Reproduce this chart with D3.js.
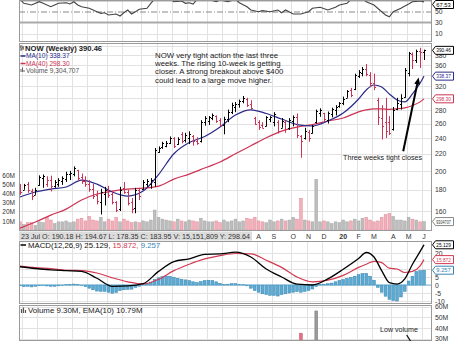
<!DOCTYPE html>
<html><head><meta charset="utf-8">
<script src="https://cdn.jsdelivr.net/npm/d3@7"></script>
<style>
html,body{margin:0;padding:0;background:#fff;}
svg{display:block;}
text{font-family:"Liberation Sans",Arial,sans-serif;}
</style></head><body>
<svg id="c" width="454" height="341"></svg>
<script>
// ---------- DATA (weekly bars, index 0 = week of 28 May 2018) ----------
const openP = [184,180,186,179,175,185,192,186,190.18,184,
 186,189,191,196,197,201,193,189,186,181,
 175,168,176,180,176,168,162,182,178,168,
 163,180,181,186,186,188,222,228,230,234,
 240,232,245,237,240,242,236,236,262,264,
 268,271,265,258,266,278,285,290,294,298,
 290,268,262,258,257,266,262,262,254,262,
 253,264,270,243,240,248,247,262,276,275,
 265,274,280,286,291,300,313,315,338,345,
 352,340,326,296,268,262,262,252,282,290,
 302,345,382,370,388,386];
const highP = [186,186,188,181,182,195,196,194,194.67,190,
 192,194,199,200,205,201,197,194,190,186,
 179,181,183,184,179,169,183,188,180,172,
 182,182,190,191,192,227,229,235,236,242,
 241,241,248,247,249,244,241,265,271,271,
 275,272,268,270,281,292,293,297,303,300,
 296,270,265,262,271,271,277,265,268,265,
 268,272,275,244,254,251,258,281,283,276,
 278,284,288,293,302,313,317,343,350,356,
 362,346,343,300,288,300,271,285,300,306,
 354,387,386,392,396,392];
const lowP = [175,180,177,170,175,184,182,183,178.35,182,
 183,185,188,190,194,189,186,183,178,171,
 166,157,165,172,166,159,160,176,165,158,
 158,170,180,183,181,183,221,226,228,232,
 227,231,233,234,232,230,231,234,257,258,
 265,261,256,245,262,274,277,284,291,285,
 281,258,251,254,256,262,256,246,254,247,
 251,256,240,215,238,235,246,260,270,262,
 260,269,272,284,288,300,301,313,335,338,
 338,318,313,258,238,240,244,250,280,281,
 300,338,352,364,354,370];
const closeP = [178,185,180,174,180,193,194,190,183.95,188,
 190,192,197,198,203,192,189,186,181,174,
 169,178,180,175,168,161,180,178,167,162,
 180,174,188,189,190,224,227,233,234,240,
 230,238,236,244,246,236,234,262,268,269,
 273,264,258,266,278,288,290,295,300,289,
 284,260,255,254,269,270,274,250,264,252,
 265,270,244,236,250,240,256,279,281,266,
 275,282,285,291,298,311,305,340,347,352,
 342,325,318,270,256,250,247,280,292,300,
 350,384,370,389,386,390.46];
// weekly volume, millions
const volM = [9,6,8,8,5,9,8,14,11,7,
 9,9,10,8,9,12,13,10,15,11,
 10,14,9,12,10,14,9,12,10,8,
 9,8,10,9,11,22,14,12,11,10,
 9,12,10,9,11,10,9,13,10,9,
 9,10,8,11,9,10,12,9,10,13,
 12,14,10,9,8,11,9,10,12,10,
 11,14,12,35,11,10,9,56,9,10,
 9,7,9,8,11,9,10,12,10,13,
 14,11,9,10,14,17,18,15,11,11,
 10,14,12,11,9,9.3];
// moving averages
const maIdx = [0,4,8,12,16,20,24,28,32,36,40,44,48,52,56,60,64,68,72,76,80,84,88,90,92,94,96,98,100,102,104,105];
const ma10 = [172.9,177.8,180.7,182.8,190.0,185.8,177.8,173.8,178.7,195.8,219.9,234.0,241.9,255.0,272.6,280.6,274.9,266.6,258.6,256.5,263.7,275.7,298.0,313.4,322.1,318.5,306.5,296.5,293.3,306.5,325.7,338.37];
const ma40 = [145.5,150.5,156.4,161.7,170.0,175.8,178.7,180.7,181.6,183.7,191.0,196.4,203.1,210.0,219.9,229.9,240.3,249.4,255.0,258.6,263.7,268.1,277.5,280.6,282.2,282.2,281.4,282.2,283.7,287.5,293.3,298.30];
// MACD(12,26,9)
const macdLine = [11.4,10.3,9.5,9.0,8.5,4.2,-0.8,-0.6,0.8,8.5,14.6,16.4,19.2,19.4,20.5,17.5,10.0,5.0,0.5,0.0,3.8,9.8,16.5,20.3,17.5,9.0,1.5,0.6,3.8,13.0,21.0,25.129];
const macdSignal = [11.8,10.8,10.2,9.2,9.0,7.5,4.5,2.0,0.6,3.5,9.0,13.0,16.3,18.4,19.7,19.5,15.5,11.0,5.0,2.0,3.0,6.0,11.0,13.0,14.8,14.0,10.5,10.0,7.8,8.5,12.0,15.872];
const macdHist = [-0.5,-1,-0.8,-1.2,-0.8,-0.5,-0.3,-0.6,-0.8,-0.8,
 -0.5,-0.3,0.2,0.4,0.6,0.3,-0.2,-1,-2,-3,
 -3.8,-4,-4,-4.5,-5.2,-4.8,-3.5,-3,-2.8,-2.6,
 -1.5,-0.8,0.2,1,1.8,3.5,4.5,5.2,5.6,5.4,
 4.8,4.2,3.6,3.2,2.8,2,1.5,2.2,2.8,3,
 2.8,2,1,0.4,0.5,0.8,0.8,0.4,0.2,-0.5,
 -2,-3.5,-4.5,-5.5,-6,-6.5,-6.5,-6.9,-6,-5.5,
 -5,-4.5,-4.2,-4.5,-4,-3.5,-2.5,-1,0.3,0.5,
 0.8,1.2,2,2.8,3.5,4.2,4.8,5.5,6.5,7.2,
 7.3,5.5,3,-1.5,-4.5,-7,-9,-9.8,-10,-7.5,
 -4,2.5,5.5,8.5,9,9.257];
// RSI (top panel)
const rsiIdx = [0,1,3,5,6,8,9,10,12,13,14,15,16,18,20,21,22,23,25,26,27,28,29,30,31,33,34,35,37,39,40,42,43,44,45,46,48,49,51,52,54,56,57,59,60,62,63,65,67,68,69,71,73,75,76,78,80,82,83,85,86,88,89,90,92,94,95,96,97,99,101,102,104,105];
const rsiVal = [72,64.9,61.8,67.8,64.9,58.7,61.8,64.9,66,63.6,67.8,61.8,58.7,55.8,49.6,46.7,47.8,43.6,45.5,41.8,47.8,52.7,45.5,49.6,54,55.8,64.9,73,77,73,67.8,69.1,64.9,66,63.6,72,75,72,67.8,71,67.8,72,66,58.7,52.7,49.6,51.5,49.6,52.7,47.8,52.7,45.5,45.5,49.6,55.8,57.6,52.7,57.6,61.8,64.9,72,78,73,67.8,61.8,49.6,43.6,40.5,49.6,55.8,63.6,67.8,69.1,67.53];
// axis ticks / labels
const monthIdx = [1,5,10,14,18,23,27,32,36,40,44,49,53,57,62,66,71,75,79,84,88,92,97,101,105];
const monthLbl = ["J","J","A","S","O","N","D","19","F","M","A","M","J","J","A","S","O","N","D","20","F","M","A","M","J"];
const priceTicks = [160,180,200,220,240,260,280,300,320,340,360,380,400];
const volTicks = [10,20,30,40,50,60];
const macdTicks = [-10,-5,0,5,10,15,20,25];
const rsiTicks = [10,30,50];
const vol2Ticks = [30,40,50,60];

// ---------- LAYOUT ----------
const svg = d3.select('#c');
const PL = 19, PR = 432;
const x = d3.scaleLinear().domain([0,105]).range([20,424]);
const step = x(1) - x(0);
const yR = d3.scaleLinear().domain([0,100]).range([39,-16]);
const yP = d3.scaleLog().domain([160,400]).range([211,46]);
const yV = d3.scaleLinear().domain([0,60]).range([230,175.6]);
const yM = d3.scaleLinear().domain([-10,25]).range([301,245]);
const yV2 = d3.scaleLinear().domain([30,60]).range([338.5,306.7]);
const panels = {r:[0,42], m:[43,231], d:[241,304], v:[305,341]};
const UP = '#000', DN = '#cc3355';
const STRIP_END = 252;

const defs = svg.append('defs');
Object.entries(panels).forEach(([k,[a,b]])=>{
  defs.append('clipPath').attr('id','clip'+k).append('rect')
    .attr('x',PL).attr('y',a).attr('width',PR-PL).attr('height',b-a);
});

// grids
Object.entries(panels).forEach(([k,[a,b]])=>{
  const g = svg.append('g').attr('clip-path',`url(#clip${k})`);
  g.selectAll(null).data(monthIdx).join('line')
    .attr('x1',d=>Math.round(x(d)-step/2)+0.5).attr('x2',d=>Math.round(x(d)-step/2)+0.5)
    .attr('y1',a).attr('y2',b).attr('stroke','#e2e2e2').attr('stroke-width',1);
});
function hgrid(vals, sc){
  svg.append('g').selectAll(null).data(vals).join('line')
    .attr('x1',PL).attr('x2',PR)
    .attr('y1',d=>Math.round(sc(d))+0.5).attr('y2',d=>Math.round(sc(d))+0.5)
    .attr('stroke','#e2e2e2').attr('stroke-width',1);
}
hgrid(priceTicks, yP);
hgrid(macdTicks.filter(d=>d<=20), yM);
hgrid(vol2Ticks, yV2);
hgrid([10], yR);

// ---------- RSI panel ----------
const gR = svg.append('g').attr('clip-path','url(#clipr)');
gR.append('line').attr('x1',PL).attr('x2',PR).attr('y1',yR(70)).attr('y2',yR(70)).attr('stroke','#aaa').attr('stroke-width',2);
gR.append('line').attr('x1',PL).attr('x2',PR).attr('y1',yR(30)).attr('y2',yR(30)).attr('stroke','#aaa').attr('stroke-width',2);
gR.append('line').attr('x1',PL).attr('x2',PR).attr('y1',yR(50)+0.5).attr('y2',yR(50)+0.5).attr('stroke','#888').attr('stroke-width',1).attr('stroke-dasharray','6,2,1,2');
gR.append('path').datum(d3.zip(rsiIdx,rsiVal))
  .attr('d',d3.line().x(d=>x(d[0])).y(d=>yR(d[1])))
  .attr('fill','none').attr('stroke','#444').attr('stroke-width',1.1);

// ---------- MAIN panel ----------
const gM = svg.append('g').attr('clip-path','url(#clipm)');
const idx = d3.range(closeP.length);
const isUp = i => i===0 ? closeP[0]>=openP[0] : closeP[i]>=closeP[i-1];
gM.selectAll(null).data(idx).join('rect')
  .attr('x',i=>x(i)-1.4).attr('width',2.8)
  .attr('y',i=>yV(volM[i])).attr('height',i=>yV(0)-yV(volM[i]))
  .attr('fill',i=>isUp(i)?'#bdbdbd':'#f2b0ba')
  .attr('stroke',i=>isUp(i)?'#a6a6a6':'#e08c9a').attr('stroke-width',0.5);
gM.append('path').datum(d3.zip(maIdx,ma40))
  .attr('d',d3.line().x(d=>x(d[0])).y(d=>yP(d[1])).curve(d3.curveMonotoneX))
  .attr('fill','none').attr('stroke','#cc3355').attr('stroke-width',1.2);
gM.append('path').datum(d3.zip(maIdx,ma10))
  .attr('d',d3.line().x(d=>x(d[0])).y(d=>yP(d[1])).curve(d3.curveMonotoneX))
  .attr('fill','none').attr('stroke','#2b2b8a').attr('stroke-width',1.2);
const bars = gM.selectAll(null).data(idx).join('g').attr('stroke',i=>isUp(i)?UP:DN).attr('stroke-width',1);
bars.append('line').attr('x1',i=>Math.round(x(i))+0.5).attr('x2',i=>Math.round(x(i))+0.5)
  .attr('y1',i=>yP(highP[i])).attr('y2',i=>yP(lowP[i]));
bars.append('line').attr('x1',i=>Math.round(x(i))-1).attr('x2',i=>Math.round(x(i))+0.5)
  .attr('y1',i=>Math.round(yP(openP[i]))+0.5).attr('y2',i=>Math.round(yP(openP[i]))+0.5);
bars.append('line').attr('x1',i=>Math.round(x(i))+0.5).attr('x2',i=>Math.round(x(i))+2)
  .attr('y1',i=>Math.round(yP(closeP[i]))+0.5).attr('y2',i=>Math.round(yP(closeP[i]))+0.5);

// annotation arrow
const ax0 = x(99.6), ay0 = yP(223), ax1 = x(103.6), ay1 = yP(336);
const ang = Math.atan2(ay1-ay0, ax1-ax0);
gM.append('line').attr('x1',ax0).attr('y1',ay0).attr('x2',ax1-5*Math.cos(ang)).attr('y2',ay1-5*Math.sin(ang))
  .attr('stroke','#000').attr('stroke-width',2);
gM.append('path').attr('d',`M${ax1},${ay1} L${ax1-7*Math.cos(ang)+3*Math.sin(ang)},${ay1-7*Math.sin(ang)-3*Math.cos(ang)} L${ax1-7*Math.cos(ang)-3*Math.sin(ang)},${ay1-7*Math.sin(ang)+3*Math.cos(ang)} Z`).attr('fill','#000');

// ---------- MACD panel ----------
const gD = svg.append('g').attr('clip-path','url(#clipd)');
gD.selectAll(null).data(idx).join('rect')
  .attr('x',i=>x(i)-1.4).attr('width',2.8)
  .attr('y',i=>Math.min(yM(0),yM(macdHist[i]))).attr('height',i=>Math.abs(yM(macdHist[i])-yM(0)))
  .attr('fill','#5aaad2').attr('stroke','#3a86b4').attr('stroke-width',0.5);
gD.append('line').attr('x1',PL).attr('x2',PR).attr('y1',yM(0)).attr('y2',yM(0)).attr('stroke','#5aaad2').attr('stroke-width',0.8);
gD.append('path').datum(d3.zip(maIdx,macdSignal))
  .attr('d',d3.line().x(d=>x(d[0])).y(d=>yM(d[1])).curve(d3.curveMonotoneX))
  .attr('fill','none').attr('stroke','#d23a52').attr('stroke-width',1.2);
gD.append('path').datum(d3.zip(maIdx,macdLine))
  .attr('d',d3.line().x(d=>x(d[0])).y(d=>yM(d[1])).curve(d3.curveMonotoneX))
  .attr('fill','none').attr('stroke','#000').attr('stroke-width',1.3);

// ---------- VOLUME panel ----------
const gV = svg.append('g').attr('clip-path','url(#clipv)');
gV.selectAll(null).data(idx).join('rect')
  .attr('x',i=>x(i)-1.4).attr('width',2.8)
  .attr('y',i=>yV2(volM[i])).attr('height',400)
  .attr('fill',i=>isUp(i)?'#9a9a9a':'#e0707f')
  .attr('stroke',i=>isUp(i)?'#777':'#c85566').attr('stroke-width',0.5);

// ---------- panel borders ----------
Object.values(panels).forEach(([a,b])=>{
  svg.append('rect').attr('x',PL+0.5).attr('y',a+0.5).attr('width',PR-PL-1).attr('height',b-a-1)
    .attr('fill','none').attr('stroke','#9a9a9a').attr('stroke-width',1);
});

// ---------- axes labels ----------
function rightAxis(sc, vals, fmt){
  const g = svg.append('g').attr('transform',`translate(${PR},0)`)
    .call(d3.axisRight(sc).tickValues(vals).tickFormat(fmt).tickSize(0).tickPadding(3));
  g.select('.domain').remove();
  g.selectAll('text').attr('font-size',6.8).attr('fill','#333').attr('font-family','"Liberation Sans",Arial,sans-serif');
  return g;
}
rightAxis(yR, rsiTicks, d=>d);
rightAxis(yP, priceTicks.filter(d=>![300,340,400].includes(d)), d=>d);
rightAxis(yM, macdTicks.filter(d=>![10,15,25].includes(d)), d=>d);
rightAxis(yV2, vol2Ticks, d=>d+'M');
const gl = svg.append('g').attr('transform','translate(15,0)')
  .call(d3.axisLeft(yV).tickValues(volTicks).tickFormat(d=>d+'M').tickSize(0).tickPadding(0));
gl.select('.domain').remove();
gl.selectAll('text').attr('font-size',6.5).attr('fill','#333').attr('font-family','"Liberation Sans",Arial,sans-serif');

// month labels (those left of the info strip are covered in the original)
const shown = monthIdx.map((d,i)=>({d,l:monthLbl[i]})).filter(o=>x(o.d)>STRIP_END+3);
svg.append('g').selectAll(null).data(shown).join('text')
  .attr('x',o=>x(o.d)).attr('y',238.5).attr('text-anchor','middle')
  .attr('font-size',7).attr('fill','#333')
  .attr('font-weight',o=>/\d/.test(o.l)?'bold':'normal')
  .text(o=>o.l);
svg.append('rect').attr('x',PL).attr('y',231.5).attr('width',STRIP_END-PL).attr('height',9).attr('fill','#dcdcdc');
svg.append('text').attr('x',21).attr('y',238.6).attr('font-size',6.6).attr('fill','#333')
  .attr('textLength',229).attr('lengthAdjust','spacingAndGlyphs')
  .text('23 Jul O: 190.18  H: 194.67  L: 178.35  C: 183.95  V: 15,151,809  Y: 298.64');

// value tags on right
function tag(y, txt, col, tcol){
  const g = svg.append('g');
  g.append('path').attr('d',`M${PR+0.5},${y} L${PR+3.5},${y-4} L453.5,${y-4} L453.5,${y+4} L${PR+3.5},${y+4} Z`)
    .attr('fill','#fff').attr('stroke',col).attr('stroke-width',1);
  g.append('text').attr('x',PR+4.3).attr('y',y+2).attr('font-size',5.8).attr('fill',tcol||'#000')
    .attr('textLength',14.5).attr('lengthAdjust','spacingAndGlyphs').text(txt);
}
tag(Math.max(yR(67.53),4.5), '67.53', '#000');
tag(yP(closeP[105]), '390.46', '#000');
tag(yP(ma10[ma10.length-1]), '338.37', '#2b2b8a', '#2b2b8a');
tag(yP(ma40[ma40.length-1]), '298.30', '#cc3355', '#cc3355');
tag(yV(volM[105]), '9304707', '#888', '#333');
tag(yM(25.129), '25.129', '#000');
tag(yM(15.872), '15.872', '#d23a52', '#d23a52');
tag(yM(9.257), '9.257', '#3a86b4', '#3a86b4');

// ---------- legends ----------
const lg = svg.append('g');
lg.append('path').attr('d','M21,45 V51 M20,47 H21 M21,49 H22 M23,46 V50 M22,47 H23 M23,48 H24').attr('stroke','#333').attr('stroke-width',0.8).attr('fill','none');
lg.append('text').attr('x',25).attr('y',51).attr('font-family','"DejaVu Sans Mono",monospace').attr('font-weight','bold')
  .attr('font-size',7.6).attr('fill','#222').text('NOW (Weekly) 390.46');
lg.append('line').attr('x1',20.5).attr('x2',25.5).attr('y1',56).attr('y2',56).attr('stroke','#2b2b8a').attr('stroke-width',1.5);
lg.append('text').attr('x',26).attr('y',58.2).attr('font-size',6.6).attr('fill','#2b2b8a').text('MA(10) 338.37');
lg.append('line').attr('x1',20.5).attr('x2',25.5).attr('y1',63.5).attr('y2',63.5).attr('stroke','#cc3355').attr('stroke-width',1.5);
lg.append('text').attr('x',26).attr('y',65.8).attr('font-size',6.6).attr('fill','#cc3355').text('MA(40) 298.30');
lg.append('path').attr('d','M21,72 V69 M22.5,72 V67.5 M24,72 V70').attr('stroke','#666').attr('stroke-width',1);
lg.append('text').attr('x',26).attr('y',72.6).attr('font-size',6.6).attr('fill','#555').text('Volume 9,304,707');

const note = ['NOW very tight action the last three','weeks. The rising 10-week is getting','closer. A strong breakout above $400','could lead to a large move higher.'];
svg.append('g').selectAll(null).data(note).join('text')
  .attr('x',155).attr('y',(d,i)=>57.8+i*8.3).attr('font-size',7.8).attr('fill','#222').text(d=>d);
svg.append('text').attr('x',343).attr('y',159.7).attr('font-size',7.2).attr('fill','#222').text('Three weeks tight closes');

const md = svg.append('g');
md.append('line').attr('x1',20.5).attr('x2',26).attr('y1',245).attr('y2',245).attr('stroke','#000').attr('stroke-width',1.5);
const mt = md.append('text').attr('x',28).attr('y',247.8).attr('font-size',7.8);
mt.append('tspan').attr('fill','#111').text('MACD(12,26,9) 25.129, ');
mt.append('tspan').attr('fill','#d23a52').text('15.872, ');
mt.append('tspan').attr('fill','#3a86b4').text('9.257');

const vg = svg.append('g');
vg.append('path').attr('d','M21.5,313 V309 M23.5,313 V307.5 M25.5,313 V310').attr('stroke','#555').attr('stroke-width',1.2);
vg.append('text').attr('x',28).attr('y',312.7).attr('font-size',7.9).attr('fill','#222').text('Volume 9.30M, EMA(10) 10.79M');
svg.append('text').attr('x',380).attr('y',331.5).attr('font-size',7.1).attr('fill','#222').text('Low volume');
svg.append('line').attr('x1',x(100.5)).attr('y1',335).attr('x2',x(101.5)).attr('y2',341).attr('stroke','#000').attr('stroke-width',1.2);
</script>
</body></html>
